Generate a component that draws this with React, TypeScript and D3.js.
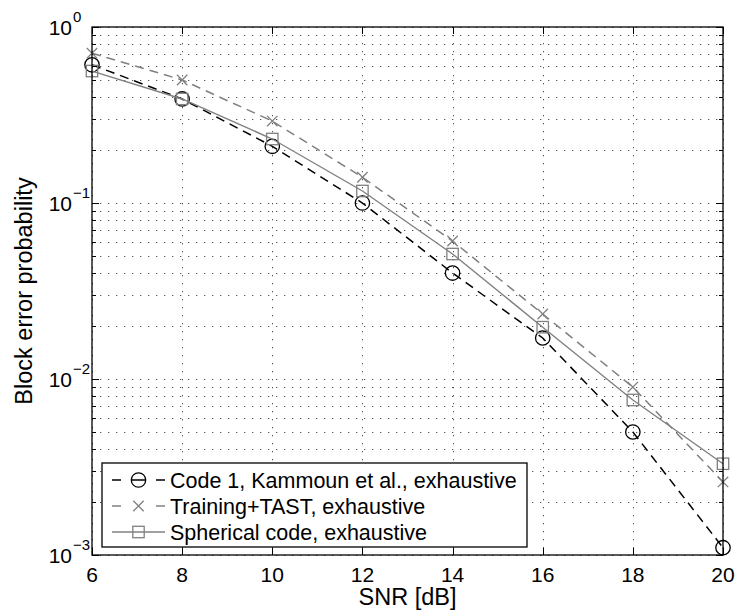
import React from 'react';
import * as d3 from 'd3';

const snr = [6, 8, 10, 12, 14, 16, 18, 20];
const code1 = [0.61, 0.39, 0.21, 0.10, 0.040, 0.0171, 0.0050, 0.0011];
const tast = [0.71, 0.50, 0.292, 0.14, 0.0608, 0.0234, 0.0090, 0.0026];
const spherical = [0.562, 0.39, 0.231, 0.117, 0.0513, 0.0197, 0.0076, 0.0033];
const xTicks = [6, 8, 10, 12, 14, 16, 18, 20];
const yExps = [0, -1, -2, -3];
const legendLabels = [
  'Code 1, Kammoun et al., exhaustive',
  'Training+TAST, exhaustive',
  'Spherical code, exhaustive',
];

const W = 735, H = 612;
const L = 92, R = 723, T = 27, B = 555;
const FONT = 'Liberation Sans, Arial, Helvetica, sans-serif';

const x = d3.scaleLinear().domain([6, 20]).range([L, R]);
const y = d3.scaleLog().domain([1e-3, 1]).range([B, T]);

const GRAY = '#808080';

type Marker = 'circle' | 'cross' | 'square';

function MarkerShape({ kind, cx, cy, color }: { kind: Marker; cx: number; cy: number; color: string }) {
  if (kind === 'circle') return <circle cx={cx} cy={cy} r={7.2} fill="none" stroke={color} strokeWidth={1.3} />;
  if (kind === 'square') return <rect x={cx - 5.7} y={cy - 5.7} width={11.4} height={11.4} fill="none" stroke={color} strokeWidth={1.3} />;
  const s = 5.2;
  return (
    <g stroke={color} strokeWidth={1.3}>
      <line x1={cx - s} y1={cy - s} x2={cx + s} y2={cy + s} />
      <line x1={cx - s} y1={cy + s} x2={cx + s} y2={cy - s} />
    </g>
  );
}

const series = [
  { values: code1, color: '#000000', dash: '9,6', marker: 'circle' as Marker, width: 1.5, lg: [[112, 121], [131, 146], [156, 165]] },
  { values: tast, color: GRAY, dash: '9,6', marker: 'cross' as Marker, width: 1.5, lg: [[112, 121], [156, 165]] },
  { values: spherical, color: GRAY, dash: undefined, marker: 'square' as Marker, width: 1.4, lg: [[112, 165]] },
];

export default function App() {
  const line = d3.line<number>().x((_, i) => x(snr[i])).y((d) => y(d));

  const minorY: number[] = [];
  for (let e = -3; e < 0; e++) {
    for (let m = 2; m <= 9; m++) minorY.push(m * Math.pow(10, e));
  }
  const majorY = yExps.map((e) => Math.pow(10, e));

  const lgX = 102, lgY = 463, lgW = 425, lgH = 84;
  const rowY = [480, 506, 532];

  return (
    <svg width={W} height={H} style={{ position: 'absolute', left: 0, top: 0, background: '#fff' }} fontFamily={FONT}>
      <rect x={0} y={0} width={W} height={H} fill="#fff" />
      {/* grid */}
      <g stroke="#555" strokeWidth={1} strokeDasharray="1.3,6.7">
        {[...minorY, ...majorY].map((v, i) => (
          <line key={'gy' + i} x1={L} x2={R} y1={Math.round(y(v)) + 0.5} y2={Math.round(y(v)) + 0.5} />
        ))}
        {xTicks.map((v, i) => (
          <line key={'gx' + i} x1={Math.round(x(v)) + 0.5} x2={Math.round(x(v)) + 0.5} y1={T} y2={B} />
        ))}
      </g>
      {/* ticks */}
      <g stroke="#000" strokeWidth={1}>
        {xTicks.map((v, i) => {
          const px = Math.round(x(v)) + 0.5;
          return (
            <g key={'tx' + i}>
              <line x1={px} x2={px} y1={B} y2={B - 7} />
              <line x1={px} x2={px} y1={T} y2={T + 7} />
            </g>
          );
        })}
        {majorY.map((v, i) => {
          const py = Math.round(y(v)) + 0.5;
          return (
            <g key={'ty' + i}>
              <line x1={L} x2={L + 7} y1={py} y2={py} />
              <line x1={R} x2={R - 7} y1={py} y2={py} />
            </g>
          );
        })}
        {minorY.map((v, i) => {
          const py = Math.round(y(v)) + 0.5;
          return (
            <g key={'tm' + i}>
              <line x1={L} x2={L + 4} y1={py} y2={py} />
              <line x1={R} x2={R - 4} y1={py} y2={py} />
            </g>
          );
        })}
      </g>
      {/* series */}
      {series.map((s, si) => (
        <g key={'s' + si}>
          <path d={line(s.values) || ''} fill="none" stroke={s.color} strokeWidth={s.width} strokeDasharray={s.dash} />
          {s.values.map((v, i) => (
            <MarkerShape key={i} kind={s.marker} cx={x(snr[i])} cy={y(v)} color={s.color} />
          ))}
        </g>
      ))}
      {/* axes box */}
      <rect x={L} y={T} width={R - L} height={B - T} fill="none" stroke="#000" strokeWidth={1.3} />
      {/* x tick labels */}
      {xTicks.map((v, i) => (
        <text key={'xl' + i} x={x(v)} y={582} textAnchor="middle" fontSize={21} fill="#000">
          {v}
        </text>
      ))}
      {/* y tick labels */}
      {yExps.map((e, i) => {
        const py = y(Math.pow(10, e));
        return (
          <g key={'yl' + i}>
            <text x={72} y={py + 7.5} textAnchor="end" fontSize={21} fill="#000">10</text>
            <text x={73} y={py - 5} textAnchor="start" fontSize={15} fill="#000">
              {e < 0 ? '\u2212' + Math.abs(e) : String(e)}
            </text>
          </g>
        );
      })}
      {/* axis labels */}
      <text x={(L + R) / 2} y={605} textAnchor="middle" fontSize={23.5} fill="#000">SNR [dB]</text>
      <text transform={`translate(32, ${(T + B) / 2}) rotate(-90)`} textAnchor="middle" fontSize={23.5} fill="#000">
        Block error probability
      </text>
      {/* legend */}
      <rect x={lgX} y={lgY} width={lgW} height={lgH} fill="#fff" stroke="#000" strokeWidth={1.3} />
      {series.map((s, i) => (
        <g key={'lg' + i}>
          {s.lg.map((seg, j) => (
            <line key={j} x1={seg[0]} x2={seg[1]} y1={rowY[i]} y2={rowY[i]} stroke={s.color} strokeWidth={s.width} />
          ))}
          <MarkerShape kind={s.marker} cx={138.5} cy={rowY[i]} color={s.color} />
          <text x={170} y={rowY[i] + 7.5} fontSize={21.5} fill="#000">{legendLabels[i]}</text>
        </g>
      ))}
    </svg>
  );
}
